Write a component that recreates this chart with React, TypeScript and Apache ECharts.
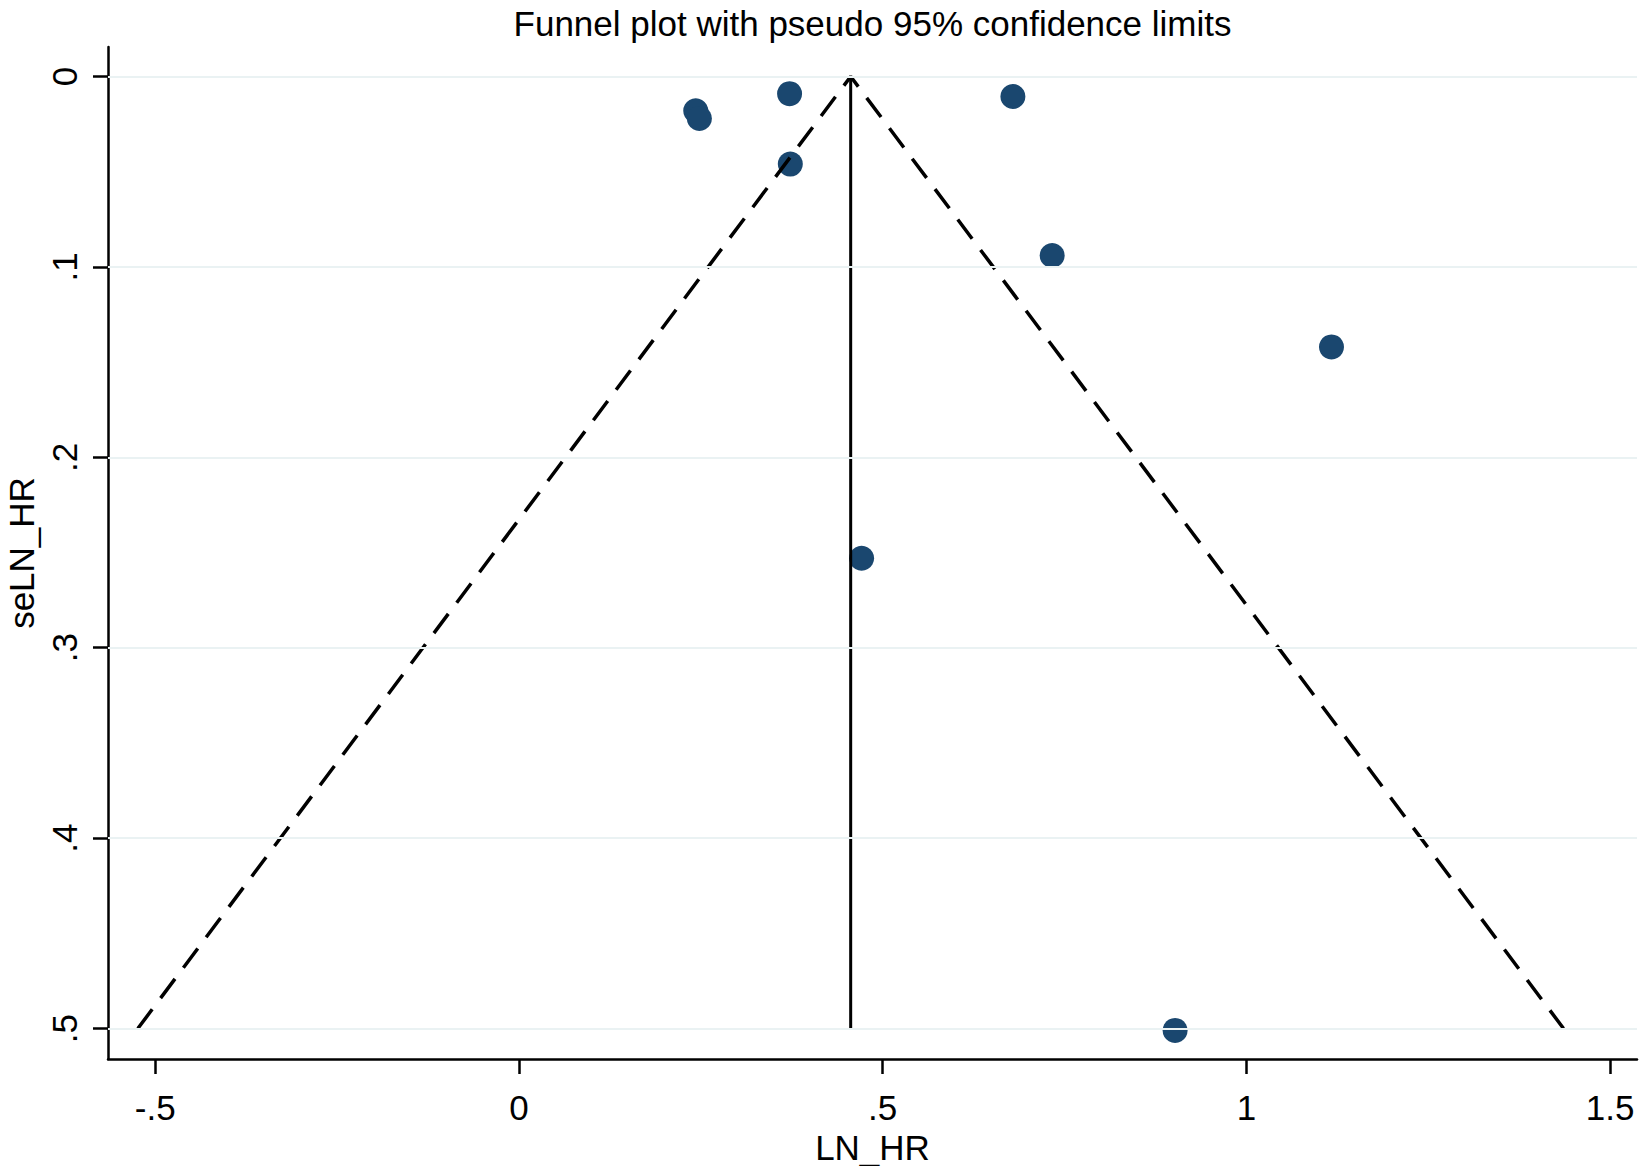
import React, { useEffect, useRef } from "react";
import * as echarts from "echarts";

const titleText = "Funnel plot with pseudo 95% confidence limits";
const xName = "LN_HR";
const yName = "seLN_HR";

const lnHR = [0.243, 0.248, 0.372, 0.373, 0.679, 0.733, 1.117, 0.471, 0.902];
const seLnHR = [0.018, 0.022, 0.009, 0.046, 0.0105, 0.094, 0.142, 0.253, 0.501];

const pooled = 0.456;
const seTop = 0;
const seBottom = 0.5;
const lowerLimitAtBottom = -0.524;
const upperLimitAtBottom = 1.436;

const xTicks = [-0.5, 0, 0.5, 1, 1.5];
const yTicks = [0, 0.1, 0.2, 0.3, 0.4, 0.5];

const fmt = (v: number) => {
  let s = String(Math.round(v * 100) / 100);
  s = s.replace(/^0\./, ".").replace(/^-0\./, "-.");
  return s;
};

const FONT = "'Liberation Sans', Arial, sans-serif";
const GRID_LEFT = 108;
const GRID_RIGHT = 6;
const W = 1643;

export default function App() {
  const ref = useRef<HTMLDivElement>(null);
  useEffect(() => {
    if (!ref.current) return;
    const chart = echarts.init(ref.current, undefined, { renderer: "svg" });
    const points = lnHR.map((x, i) => [x, seLnHR[i]]);
    const gridLines = yTicks.map((t) => ({ yAxis: t }));
    chart.setOption({
      animation: false,
      backgroundColor: "#ffffff",
      graphic: [
        {
          type: "text",
          x: (GRID_LEFT + (W - GRID_RIGHT)) / 2,
          y: 6,
          style: {
            text: titleText,
            fontFamily: FONT,
            fontSize: 35,
            fill: "#000",
            textAlign: "center",
            textVerticalAlign: "top",
          },
        },
      ],
      grid: {
        left: GRID_LEFT,
        right: GRID_RIGHT,
        top: 47,
        bottom: 107,
        containLabel: false,
        outerBoundsMode: "none",
      },
      xAxis: {
        type: "value",
        min: -0.565,
        max: 1.537,
        name: xName,
        nameLocation: "middle",
        nameGap: 62,
        nameTextStyle: { fontFamily: FONT, fontSize: 35, color: "#000" },
        axisLine: { show: true, onZero: false, lineStyle: { color: "#000", width: 2.5 } },
        axisTick: { show: true, customValues: xTicks, length: 15, lineStyle: { color: "#000", width: 2.5 } },
        axisLabel: {
          customValues: xTicks,
          formatter: (v: number) => fmt(v),
          fontFamily: FONT,
          fontSize: 35,
          color: "#000",
          margin: 31,
        },
        splitLine: { show: false },
      },
      yAxis: {
        type: "value",
        inverse: true,
        min: -0.0155,
        max: 0.516,
        name: yName,
        nameLocation: "middle",
        nameGap: 69,
        nameRotate: 90,
        nameTextStyle: { fontFamily: FONT, fontSize: 35, color: "#000" },
        axisLine: { show: true, onZero: false, lineStyle: { color: "#000", width: 2.5 } },
        axisTick: { show: true, customValues: yTicks, length: 15, lineStyle: { color: "#000", width: 2.5 } },
        axisLabel: {
          customValues: yTicks,
          formatter: (v: number) => fmt(v),
          rotate: 90,
          fontFamily: FONT,
          fontSize: 35,
          color: "#000",
          margin: 26,
        },
        splitLine: { show: false },
      },
      series: [
        {
          type: "line",
          data: [],
          silent: true,
          markLine: {
            silent: true,
            symbol: "none",
            label: { show: false },
            lineStyle: { color: "#eaf2f3", width: 2, type: "solid" },
            data: gridLines,
          },
        },
        {
          type: "line",
          data: [
            [lowerLimitAtBottom, seBottom],
            [pooled, seTop],
            [upperLimitAtBottom, seBottom],
          ],
          symbol: "none",
          lineStyle: { color: "#000", width: 3.5, type: [24, 14] },
          silent: true,
        },
        {
          type: "line",
          data: [
            [pooled, seTop],
            [pooled, seBottom],
          ],
          symbol: "none",
          lineStyle: { color: "#000", width: 3, type: "solid" },
          silent: true,
        },
        {
          type: "scatter",
          data: points,
          symbol: "circle",
          symbolSize: 25,
          itemStyle: { color: "#1a476f", opacity: 1 },
        },
      ],
    });
    return () => chart.dispose();
  }, []);
  return (
    <div
      ref={ref}
      style={{ position: "fixed", left: 0, top: 0, width: W, height: 1166, background: "#fff" }}
    />
  );
}
